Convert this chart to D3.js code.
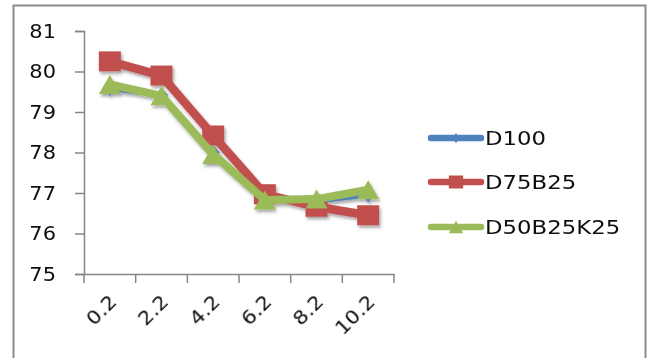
<!DOCTYPE html>
<html>
<head>
<meta charset="utf-8">
<script src="https://cdn.jsdelivr.net/npm/d3@7/dist/d3.min.js"></script>
<style>
  html, body { margin: 0; padding: 0; background: #fff; }
  svg { display: block; }
  text { font-family: "DejaVu Sans", sans-serif; fill: #111; }
</style>
</head>
<body>
<svg id="chart" width="649" height="358"></svg>
<script>
// Categories along the x axis
const categories = ["0.2", "2.2", "4.2", "6.2", "8.2", "10.2"];
// Series values
const seriesNames = ["D100", "D75B25", "D50B25K25"];
const d100 = [79.58, 79.42, 78.0, 76.85, 76.8, 76.95];
const d75b25 = [80.25, 79.9, 78.42, 76.97, 76.66, 76.45];
const d50b25k25 = [79.68, 79.4, 77.95, 76.83, 76.85, 77.08];
// Y axis tick values
const yTicks = [75, 76, 77, 78, 79, 80, 81];

const series = [
  { name: seriesNames[0], values: d100, color: "#4F81BD", width: 5, marker: "diamond" },
  { name: seriesNames[1], values: d75b25, color: "#C0504D", width: 8.5, marker: "square" },
  { name: seriesNames[2], values: d50b25k25, color: "#9BBB59", width: 8, marker: "triangle" }
];

const svg = d3.select("#chart");

// Soft drop shadow under the series, and a light softening for text
const defs = svg.append("defs");
const f = defs.append("filter").attr("id", "shadow")
  .attr("x", "-20%").attr("y", "-20%").attr("width", "140%").attr("height", "140%");
f.append("feDropShadow").attr("dx", 1.5).attr("dy", 2.5).attr("stdDeviation", 1.8)
  .attr("flood-color", "#000").attr("flood-opacity", 0.35);
const soft = defs.append("filter").attr("id", "soft");
soft.append("feGaussianBlur").attr("stdDeviation", 0.5);
const softText = defs.append("filter").attr("id", "softText");
softText.append("feGaussianBlur").attr("stdDeviation", 0.35);

// Chart frame
svg.append("rect")
  .attr("x", 13.5).attr("y", 5.5).attr("width", 632).attr("height", 380)
  .attr("fill", "#fff").attr("stroke", "#8c8c8c").attr("stroke-width", 2);

const plot = { left: 84, right: 394, top: 31, bottom: 274 };

const x = d3.scaleBand().domain(categories).range([plot.left, plot.right]);
const y = d3.scaleLinear().domain([75, 81]).range([plot.bottom, plot.top]);

const axisColor = "#868686";
const tickScaleX = 1.05;
const fontSize = 20;

// Y axis
const yAxis = svg.append("g")
  .attr("transform", `translate(${plot.left},0)`)
  .call(d3.axisLeft(y).tickValues(yTicks).tickFormat(d3.format("d")).tickSize(9).tickPadding(28));
yAxis.select(".domain").attr("stroke", axisColor).attr("stroke-width", 1.5);
yAxis.selectAll(".tick line").attr("stroke", axisColor).attr("stroke-width", 1.5);
yAxis.selectAll(".tick text")
  .attr("font-size", fontSize)
  .attr("fill", "#111")
  .attr("filter", "url(#softText)")
  .attr("x", null)
  .attr("transform", `translate(-28,0) scale(${tickScaleX},1)`);

// X axis: ticks sit on band boundaries
const xAxis = svg.append("g")
  .attr("transform", `translate(0,${plot.bottom})`)
  .call(d3.axisBottom(x).tickSize(0).tickFormat(""));
xAxis.select(".domain").attr("stroke", axisColor).attr("stroke-width", 1.5);
const bounds = categories.map(c => x(c)).concat([x.range()[1]]);
xAxis.selectAll(".boundary").data(bounds).join("line")
  .attr("x1", d => d).attr("x2", d => d)
  .attr("y1", 0).attr("y2", 9)
  .attr("stroke", axisColor).attr("stroke-width", 1.5);

// Rotated category labels
xAxis.selectAll(".cat").data(categories).join("text")
  .attr("text-anchor", "end")
  .attr("font-size", fontSize)
  .attr("filter", "url(#softText)")
  .attr("transform", c => `translate(${x(c) + x.bandwidth() / 2 + 8},${29}) rotate(-45) scale(${tickScaleX},1)`)
  .text(c => c);

// Marker shapes
function markerPath(type, s) {
  if (type === "square") {
    const w = 11 * s, h = 10 * s;
    return `M${-w},${-h}H${w}V${h}H${-w}Z`;
  }
  if (type === "triangle") {
    const w = 11 * s, h = 9.5 * s;
    return `M0,${-h}L${w},${h}L${-w},${h}Z`;
  }
  const w = 6.5 * s, h = 7.5 * s;
  return `M0,${-h}L${w},0L0,${h}L${-w},0Z`;
}

const line = d3.line()
  .x((d, i) => x(categories[i]) + x.bandwidth() / 2)
  .y(d => y(d));

const seriesG = svg.append("g").attr("filter", "url(#shadow)");
series.forEach(s => {
  const g = seriesG.append("g").attr("filter", "url(#soft)");
  g.append("path")
    .attr("d", line(s.values))
    .attr("fill", "none")
    .attr("stroke", s.color)
    .attr("stroke-width", s.width)
    .attr("stroke-linejoin", "round")
    .attr("stroke-linecap", "round");
  g.selectAll("path.m").data(s.values).join("path")
    .attr("class", "m")
    .attr("transform", (d, i) => `translate(${x(categories[i]) + x.bandwidth() / 2},${y(d)})`)
    .attr("d", markerPath(s.marker, 1))
    .attr("fill", s.color);
});

// Legend
const legend = svg.append("g");
const legendY = [138, 182, 227];
series.forEach((s, i) => {
  const g = legend.append("g").attr("transform", `translate(0,${legendY[i]})`);
  const gl = g.append("g").attr("filter", "url(#soft)");
  gl.append("line")
    .attr("x1", 431).attr("x2", 481).attr("y1", 0).attr("y2", 0)
    .attr("stroke", s.color).attr("stroke-width", 6.5)
    .attr("stroke-linecap", "round");
  gl.append("path")
    .attr("transform", "translate(456,0)")
    .attr("d", markerPath(s.marker, 0.65))
    .attr("fill", s.color);
  g.append("text")
    .attr("font-size", fontSize)
    .attr("dy", "0.36em")
    .attr("filter", "url(#softText)")
    .attr("transform", "translate(485,0) scale(1.14,1)")
    .text(s.name);
});
</script>
</body>
</html>
